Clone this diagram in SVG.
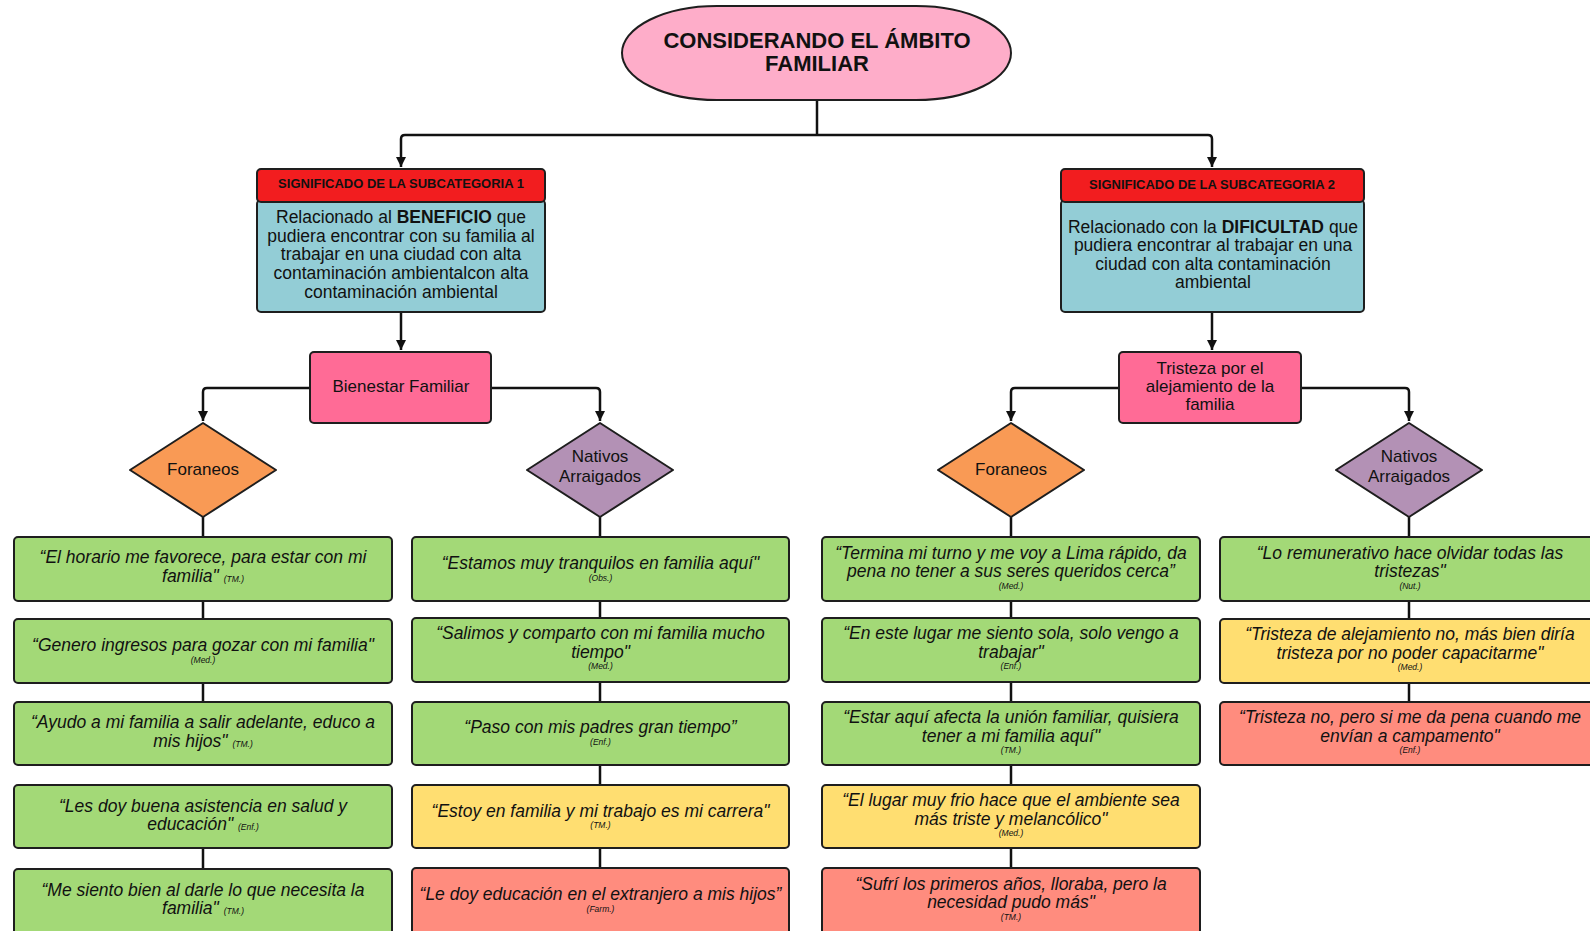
<svg xmlns="http://www.w3.org/2000/svg" width="1590" height="931" viewBox="0 0 1590 931">
  <defs>
    <marker id="arrow" viewBox="0 0 10 12" refX="10" refY="6" markerWidth="10" markerHeight="12" markerUnits="userSpaceOnUse" orient="auto">
      <path d="M0,1 L10,6 L0,11 Z" fill="#111"/>
    </marker>
    <style>
      text { font-family: "Liberation Sans", Arial, sans-serif; fill: #111; }
      .shape { stroke: #1e1e1e; stroke-width: 2; stroke-linejoin: round; }
      .conn { fill: none; stroke: #111; stroke-width: 2.5; stroke-linejoin: round; }
      .title { fill: #FEADC9; }
      .head { fill: #F21D1F; }
      .desc { fill: #93CDD6; }
      .cat { fill: #FF6B96; }
      .foraneo { fill: #F99A55; }
      .nativo { fill: #B391B5; }
      .green { fill: #A3D977; }
      .yellow { fill: #FFDE71; }
      .red { fill: #FF8C7E; }
      .t-title { font-size: 22px; font-weight: bold; text-anchor: middle; }
      .t-head { font-size: 13px; font-weight: bold; text-anchor: middle; }
      .t-desc { font-size: 17.5px; text-anchor: middle; }
      .t-node { font-size: 17px; text-anchor: middle; }
      .q { font-size: 17.5px; font-style: italic; text-anchor: middle; }
      .src { font-size: 8.5px; font-style: italic; }
      .srcl { font-size: 8.5px; font-style: italic; text-anchor: middle; }
    </style>
  </defs>

  <!-- connectors -->
  <g id="connectors">
    <path class="conn" d="M817,100 V135"/>
    <path class="conn" d="M817,135 H405 Q401,135 401,139 V167" marker-end="url(#arrow)"/>
    <path class="conn" d="M817,135 H1208 Q1212,135 1212,139 V167" marker-end="url(#arrow)"/>
    <path class="conn" d="M401,312 V350" marker-end="url(#arrow)"/>
    <path class="conn" d="M1212,312 V350" marker-end="url(#arrow)"/>
    <path class="conn" d="M310,388 H207 Q203,388 203,392 V421" marker-end="url(#arrow)"/>
    <path class="conn" d="M491,388 H596 Q600,388 600,392 V421" marker-end="url(#arrow)"/>
    <path class="conn" d="M1119,388 H1015 Q1011,388 1011,392 V421" marker-end="url(#arrow)"/>
    <path class="conn" d="M1301,388 H1405 Q1409,388 1409,392 V421" marker-end="url(#arrow)"/>
    <!-- diamond to first quote -->
    <path class="conn" d="M203,517 V537 M600,517 V537 M1011,517 V537 M1409,517 V537"/>
    <!-- quote chains -->
    <path class="conn" d="M203,601 V619 M203,683 V702 M203,848 V869"/>
    <path class="conn" d="M600,601 V618 M600,682 V702 M600,765 V785 M600,848 V868"/>
    <path class="conn" d="M1011,601 V618 M1011,682 V702 M1011,765 V785 M1011,848 V868"/>
    <path class="conn" d="M1409,601 V619 M1409,683 V702"/>
  </g>

  <!-- root -->
  <g id="root">
    <rect class="shape title" x="622" y="6" width="389" height="94" rx="95" ry="47"/>
    <text class="t-title" x="817" y="48">CONSIDERANDO EL ÁMBITO</text>
    <text class="t-title" x="817" y="71">FAMILIAR</text>
  </g>

  <!-- subcategory 1 -->
  <g id="sub1">
    <rect class="shape desc" x="257" y="200" width="288" height="112" rx="4"/>
    <rect class="shape head" x="257" y="169" width="288" height="33" rx="4"/>
    <text class="t-head" x="401" y="188">SIGNIFICADO DE LA SUBCATEGORIA 1</text>
    <text class="t-desc" x="401" y="223">Relacionado al <tspan font-weight="bold">BENEFICIO</tspan> que</text>
    <text class="t-desc" x="401" y="241.5">pudiera encontrar con su familia al</text>
    <text class="t-desc" x="401" y="260">trabajar en una ciudad con alta</text>
    <text class="t-desc" x="401" y="279">contaminación ambientalcon alta</text>
    <text class="t-desc" x="401" y="297.5">contaminación ambiental</text>
  </g>

  <!-- subcategory 2 -->
  <g id="sub2">
    <rect class="shape desc" x="1061" y="200" width="303" height="112" rx="4"/>
    <rect class="shape head" x="1061" y="169" width="303" height="33" rx="4"/>
    <text class="t-head" x="1212" y="189">SIGNIFICADO DE LA SUBCATEGORIA 2</text>
    <text class="t-desc" x="1213" y="232.5">Relacionado con la <tspan font-weight="bold">DIFICULTAD</tspan> que</text>
    <text class="t-desc" x="1213" y="251">pudiera encontrar al trabajar en una</text>
    <text class="t-desc" x="1213" y="269.5">ciudad con alta contaminación</text>
    <text class="t-desc" x="1213" y="288">ambiental</text>
  </g>

  <!-- categories -->
  <g id="bienestar">
    <rect class="shape cat" x="310" y="352" width="181" height="71" rx="4"/>
    <text class="t-node" x="401" y="391.5">Bienestar Familiar</text>
  </g>
  <g id="tristeza">
    <rect class="shape cat" x="1119" y="352" width="182" height="71" rx="4"/>
    <text class="t-node" x="1210" y="373.5">Tristeza por el</text>
    <text class="t-node" x="1210" y="391.5">alejamiento de la</text>
    <text class="t-node" x="1210" y="409.5">familia</text>
  </g>

  <!-- groups -->
  <g id="foraneos-1">
    <path class="shape foraneo" d="M203,423 L276,470 L203,517 L130,470 Z"/>
    <text class="t-node" x="203" y="474.5">Foraneos</text>
  </g>
  <g id="nativos-1">
    <path class="shape nativo" d="M600,423 L673,470 L600,517 L527,470 Z"/>
    <text class="t-node" x="600" y="462">Nativos</text>
    <text class="t-node" x="600" y="482">Arraigados</text>
  </g>
  <g id="foraneos-2">
    <path class="shape foraneo" d="M1011,423 L1084,470 L1011,517 L938,470 Z"/>
    <text class="t-node" x="1011" y="474.5">Foraneos</text>
  </g>
  <g id="nativos-2">
    <path class="shape nativo" d="M1409,423 L1482,470 L1409,517 L1336,470 Z"/>
    <text class="t-node" x="1409" y="462">Nativos</text>
    <text class="t-node" x="1409" y="482">Arraigados</text>
  </g>

  <!-- column 1: foraneos, bienestar -->
  <g id="q1-1">
    <rect class="shape green" x="14" y="537" width="378" height="64" rx="4"/>
    <text class="q" x="203" y="563">“El horario me favorece, para estar con mi</text>
    <text class="q" x="203" y="581.5">familia" <tspan class="src">(TM.)</tspan></text>
  </g>
  <g id="q1-2">
    <rect class="shape green" x="14" y="619" width="378" height="64" rx="4"/>
    <text class="q" x="203" y="651">“Genero ingresos para gozar con mi familia"</text>
    <text class="srcl" x="203" y="663">(Med.)</text>
  </g>
  <g id="q1-3">
    <rect class="shape green" x="14" y="702" width="378" height="63" rx="4"/>
    <text class="q" x="203" y="728">“Ayudo a mi familia a salir adelante, educo a</text>
    <text class="q" x="203" y="746.5">mis hijos" <tspan class="src">(TM.)</tspan></text>
  </g>
  <g id="q1-4">
    <rect class="shape green" x="14" y="785" width="378" height="63" rx="4"/>
    <text class="q" x="203" y="811.5">“Les doy buena asistencia en salud y</text>
    <text class="q" x="203" y="830">educación" <tspan class="src">(Enf.)</tspan></text>
  </g>
  <g id="q1-5">
    <rect class="shape green" x="14" y="869" width="378" height="70" rx="4"/>
    <text class="q" x="203" y="895.5">“Me siento bien al darle lo que necesita la</text>
    <text class="q" x="203" y="914">familia" <tspan class="src">(TM.)</tspan></text>
  </g>

  <!-- column 2: nativos, bienestar -->
  <g id="q2-1">
    <rect class="shape green" x="412" y="537" width="377" height="64" rx="4"/>
    <text class="q" x="600.5" y="569">“Estamos muy tranquilos en familia aquí"</text>
    <text class="srcl" x="600.5" y="580.5">(Obs.)</text>
  </g>
  <g id="q2-2">
    <rect class="shape green" x="412" y="618" width="377" height="64" rx="4"/>
    <text class="q" x="600.5" y="639">“Salimos y comparto con mi familia mucho</text>
    <text class="q" x="600.5" y="657.5">tiempo"</text>
    <text class="srcl" x="600.5" y="669">(Med.)</text>
  </g>
  <g id="q2-3">
    <rect class="shape green" x="412" y="702" width="377" height="63" rx="4"/>
    <text class="q" x="600.5" y="733">“Paso con mis padres gran tiempo”</text>
    <text class="srcl" x="600.5" y="745">(Enf.)</text>
  </g>
  <g id="q2-4">
    <rect class="shape yellow" x="412" y="785" width="377" height="63" rx="4"/>
    <text class="q" x="600.5" y="816.5">“Estoy en familia y mi trabajo es mi carrera"</text>
    <text class="srcl" x="600.5" y="828">(TM.)</text>
  </g>
  <g id="q2-5">
    <rect class="shape red" x="412" y="868" width="377" height="70" rx="4"/>
    <text class="q" x="600.5" y="900">“Le doy educación en el extranjero a mis hijos”</text>
    <text class="srcl" x="600.5" y="911.5">(Farm.)</text>
  </g>

  <!-- column 3: foraneos, tristeza -->
  <g id="q3-1">
    <rect class="shape green" x="822" y="537" width="378" height="64" rx="4"/>
    <text class="q" x="1011" y="558.5">“Termina mi turno y me voy a Lima rápido, da</text>
    <text class="q" x="1011" y="577">pena no tener a sus seres queridos cerca”</text>
    <text class="srcl" x="1011" y="588.5">(Med.)</text>
  </g>
  <g id="q3-2">
    <rect class="shape green" x="822" y="618" width="378" height="64" rx="4"/>
    <text class="q" x="1011" y="639">“En este lugar me siento sola, solo vengo a</text>
    <text class="q" x="1011" y="657.5">trabajar"</text>
    <text class="srcl" x="1011" y="669">(Enf.)</text>
  </g>
  <g id="q3-3">
    <rect class="shape green" x="822" y="702" width="378" height="63" rx="4"/>
    <text class="q" x="1011" y="722.5">“Estar aquí afecta la unión familiar, quisiera</text>
    <text class="q" x="1011" y="741.5">tener a mi familia aquí"</text>
    <text class="srcl" x="1011" y="752.5">(TM.)</text>
  </g>
  <g id="q3-4">
    <rect class="shape yellow" x="822" y="785" width="378" height="63" rx="4"/>
    <text class="q" x="1011" y="806">“El lugar muy frio hace que el ambiente sea</text>
    <text class="q" x="1011" y="825">más triste y melancólico"</text>
    <text class="srcl" x="1011" y="836">(Med.)</text>
  </g>
  <g id="q3-5">
    <rect class="shape red" x="822" y="868" width="378" height="70" rx="4"/>
    <text class="q" x="1011" y="889.5">“Sufrí los primeros años, lloraba, pero la</text>
    <text class="q" x="1011" y="908">necesidad pudo más"</text>
    <text class="srcl" x="1011" y="920">(TM.)</text>
  </g>

  <!-- column 4: nativos, tristeza -->
  <g id="q4-1">
    <rect class="shape green" x="1220" y="537" width="378" height="64" rx="4"/>
    <text class="q" x="1410" y="558.5">“Lo remunerativo hace olvidar todas las</text>
    <text class="q" x="1410" y="577">tristezas"</text>
    <text class="srcl" x="1410" y="588.5">(Nut.)</text>
  </g>
  <g id="q4-2">
    <rect class="shape yellow" x="1220" y="619" width="378" height="64" rx="4"/>
    <text class="q" x="1410" y="640">“Tristeza de alejamiento no, más bien diría</text>
    <text class="q" x="1410" y="658.5">tristeza por no poder capacitarme"</text>
    <text class="srcl" x="1410" y="670">(Med.)</text>
  </g>
  <g id="q4-3">
    <rect class="shape red" x="1220" y="702" width="378" height="63" rx="4"/>
    <text class="q" x="1410" y="722.5">“Tristeza no, pero si me da pena cuando me</text>
    <text class="q" x="1410" y="741.5">envían a campamento"</text>
    <text class="srcl" x="1410" y="752.5">(Enf.)</text>
  </g>
</svg>
